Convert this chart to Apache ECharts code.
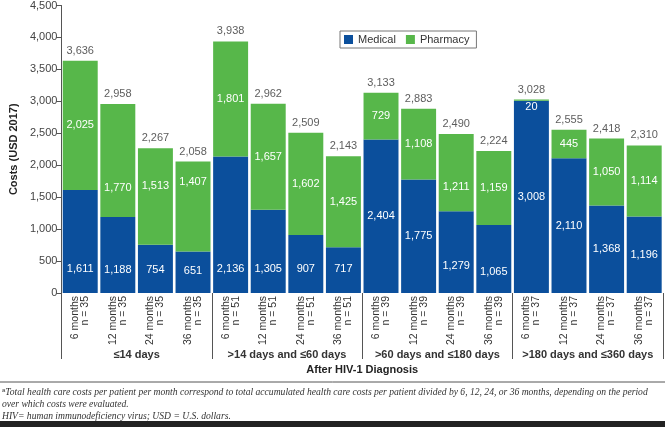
<!DOCTYPE html>
<html>
<head>
<meta charset="utf-8">
<script src="https://cdn.jsdelivr.net/npm/echarts@6/dist/echarts.min.js"></script>
<style>html,body{margin:0;padding:0;background:#fff;}#c{width:665px;height:427px;}</style>
</head>
<body>
<div id="c"></div>
<script>
const periods = ['6 months','12 months','24 months','36 months','6 months','12 months','24 months','36 months','6 months','12 months','24 months','36 months','6 months','12 months','24 months','36 months'];
const nValues = ['n = 35','n = 35','n = 35','n = 35','n = 51','n = 51','n = 51','n = 51','n = 39','n = 39','n = 39','n = 39','n = 37','n = 37','n = 37','n = 37'];
const groups = ['≤14 days','>14 days and ≤60 days','>60 days and ≤180 days','>180 days and ≤360 days'];
const medical = [1611,1188,754,651,2136,1305,907,717,2404,1775,1279,1065,3008,2110,1368,1196];
const pharmacy = [2025,1770,1513,1407,1801,1657,1602,1425,729,1108,1211,1159,20,445,1050,1114];
const totals = [3636,2958,2267,2058,3938,2962,2509,2143,3133,2883,2490,2224,3028,2555,2418,2310];
const yTicks = [0,500,1000,1500,2000,2500,3000,3500,4000,4500];

const categories = periods.map((p,i) => p + '\n' + nValues[i]);
const fmt = v => v.toLocaleString('en-US');
const BLUE = '#0b4f9c', GREEN = '#57b74a';
const FONT = 'Liberation Sans';

// label placement tweaks (label styling only, matched to the reference)
const medLabelStyle = {
  0: {position: 'insideBottom', distance: 19}, 1: {position: 'insideBottom', distance: 18},
  2: {position: 'insideBottom', distance: 18}, 3: {position: 'insideBottom', distance: 17},
  4: {position: 'insideBottom', distance: 19}, 5: {position: 'insideBottom', distance: 19},
  6: {position: 'insideBottom', distance: 19}, 7: {position: 'insideBottom', distance: 19},
  10: {offset: [0, 14]}, 11: {offset: [0, 13]}
};
const phLabelStyle = {
  1: {offset: [0, 27]}, 2: {offset: [0, -11]}, 3: {offset: [0, -24]},
  10: {offset: [0, 14]}
};

const chart = echarts.init(document.getElementById('c'), null, {renderer:'canvas'});
chart.setOption({
  animation: false,
  textStyle: {fontFamily: FONT},
  grid: {left: 59, right: 2, top: 4, bottom: 134},
  legend: {
    data: ['Medical','Pharmacy'],
    left: 340, top: 31,
    borderColor: '#777', borderWidth: 1,
    padding: [3,7,3,4],
    itemWidth: 9, itemHeight: 9, itemGap: 10,
    icon: 'rect',
    textStyle: {fontSize: 11, color: '#333', fontFamily: FONT}
  },
  xAxis: [{
    type: 'category', data: categories,
    axisLine: {show: false}, axisTick: {show: false},
    axisLabel: {interval: 0, rotate: 90, margin: 3, fontSize: 10.5, lineHeight: 10, color: '#333', fontFamily: FONT}
  }, {
    type: 'category', data: groups, position: 'bottom',
    axisLine: {show: false},
    axisTick: {show: true, length: 66, lineStyle: {color: '#555', width: 1}},
    axisLabel: {interval: 0, margin: 56, fontSize: 11, fontWeight: 'bold', color: '#333', fontFamily: FONT},
    name: 'After HIV-1 Diagnosis', nameLocation: 'middle', nameGap: 68,
    nameTextStyle: {fontSize: 11, fontWeight: 'bold', color: '#222', fontFamily: FONT}
  }],
  yAxis: {
    type: 'value', min: 0, max: 4500, interval: 500,
    axisLine: {show: true, lineStyle: {color: '#555'}},
    axisTick: {show: true, length: 5, lineStyle: {color: '#555'}},
    splitLine: {show: false},
    axisLabel: {fontSize: 11, color: '#444', margin: 4, formatter: v => fmt(v), fontFamily: FONT},
    name: 'Costs (USD 2017)', nameLocation: 'middle', nameGap: 42,
    nameTextStyle: {fontSize: 11, fontWeight: 'bold', color: '#222', fontFamily: FONT}
  },
  series: [{
    name: 'Medical', type: 'bar', stack: 'cost',
    data: medical.map((v, i) => medLabelStyle[i] ? {value: v, label: medLabelStyle[i]} : v),
    barCategoryGap: '7%',
    itemStyle: {color: BLUE},
    label: {show: true, position: 'inside', color: '#fff', fontSize: 11, formatter: p => fmt(p.value)}
  }, {
    name: 'Pharmacy', type: 'bar', stack: 'cost',
    data: pharmacy.map((v, i) => v < 100 ? {value: v, label: {position: 'bottom', distance: 1}}
      : (phLabelStyle[i] ? {value: v, label: phLabelStyle[i]} : v)),
    itemStyle: {color: GREEN},
    label: {show: true, position: 'inside', color: '#fff', fontSize: 11, formatter: p => fmt(p.value)}
  }, {
    name: 'Total', type: 'scatter', data: totals, symbolSize: 1, silent: true,
    itemStyle: {color: 'rgba(0,0,0,0)'},
    label: {show: true, position: 'top', distance: 4, color: '#333', fontSize: 11, formatter: p => fmt(p.value)}
  }],
  graphic: [
    {type: 'line', shape: {x1: 0, y1: 382, x2: 665, y2: 382}, style: {stroke: '#555', lineWidth: 1}},
    {type: 'rect', shape: {x: 0, y: 421, width: 665, height: 6}, style: {fill: '#222'}},
    {type: 'text', left: 2, top: 387, style: {
      text: '{s|a}Total health care costs per patient per month correspond to total accumulated health care costs per patient divided by 6, 12, 24, or 36 months, depending on the period',
      font: 'italic 9.6px "Liberation Serif"', fill: '#333',
      rich: {s: {fontSize: 6, verticalAlign: 'top', font: 'italic 6px "Liberation Serif"', fill: '#333'}}
    }},
    {type: 'text', left: 2, top: 399, style: {text: 'over which costs were evaluated.', font: 'italic 9.6px "Liberation Serif"', fill: '#333'}},
    {type: 'text', left: 2, top: 411, style: {text: 'HIV= human immunodeficiency virus; USD = U.S. dollars.', font: 'italic 9.6px "Liberation Serif"', fill: '#333'}}
  ]
});
</script>
</body>
</html>
